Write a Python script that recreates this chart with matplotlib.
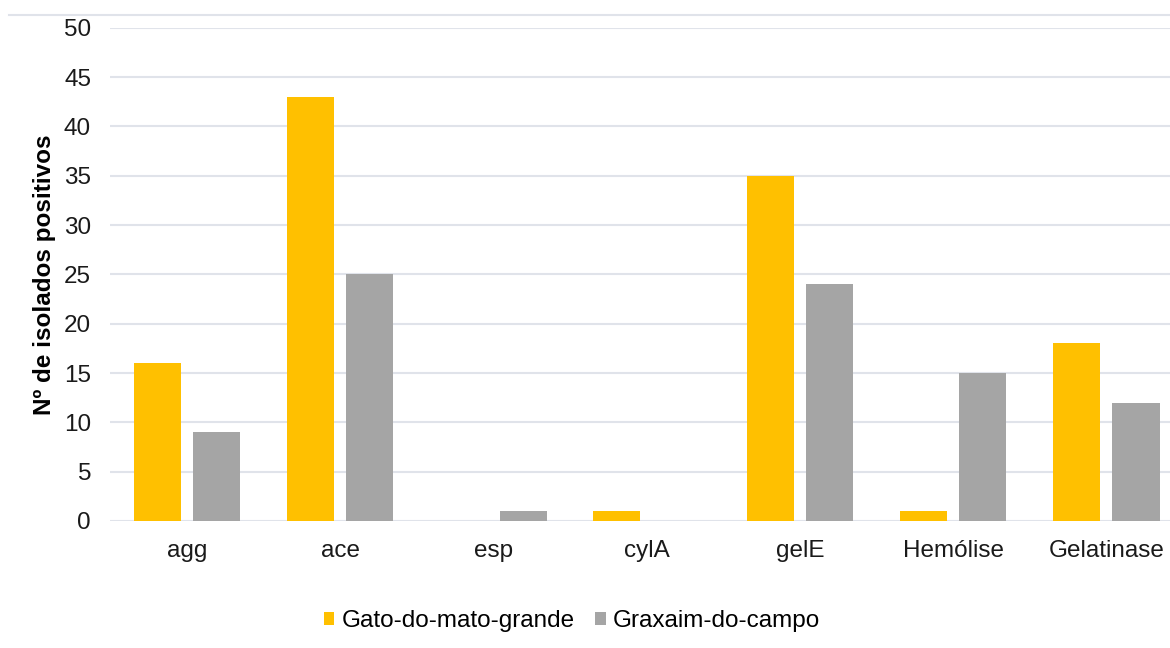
import numpy as np
import matplotlib
matplotlib.use('Agg')
import matplotlib.pyplot as plt
from matplotlib.lines import Line2D

plt.rcParams['font.family'] = ['Liberation Sans', 'DejaVu Sans']

categories = ['agg', 'ace', 'esp', 'cylA', 'gelE', 'Hemólise', 'Gelatinase']
gato = [16, 43, 0, 1, 35, 1, 18]
graxaim = [9, 25, 1, 0, 24, 15, 12]
series_names = ['Gato-do-mato-grande', 'Graxaim-do-campo']
colors = ['#FFC000', '#A5A5A5']

fig = plt.figure(figsize=(11.7, 6.48), dpi=100)
# plot area runs a little past the right edge, as in the original (clipped)
ax = fig.add_axes([0.0944, 0.196, 0.9166, 0.761])

x = np.arange(len(categories))
w = 0.307
ax.bar(x - 0.194, gato, w, color=colors[0], label=series_names[0], zorder=3)
ax.bar(x + 0.194, graxaim, w, color=colors[1], label=series_names[1], zorder=3)

ax.set_xlim(-0.5, len(categories) - 0.5)
ax.set_ylim(0, 50)
ax.set_yticks(range(0, 51, 5))
ax.set_xticks(x)
ax.set_xticklabels(categories)
ax.tick_params(axis='both', length=0, labelsize=17.5, colors='#1a1a1a')
ax.tick_params(axis='x', pad=14)
ax.tick_params(axis='y', pad=14)
ax.grid(axis='y', color='#E0E3EA', linewidth=1.5, zorder=0)
for s in ax.spines.values():
    s.set_visible(False)
ax.set_ylabel('Nº de isolados positivos', fontsize=17.5, fontweight='bold', labelpad=6)

fig.add_artist(Line2D([0.008, 1.0], [0.977, 0.977], color='#E0E3EA', linewidth=1.5))

fig.legend(loc='lower center', bbox_to_anchor=(0.489, -0.009), ncol=2, frameon=False,
           fontsize=17.5, handlelength=0.42, handleheight=0.42, handletextpad=0.3,
           columnspacing=0.85)

plt.savefig('out.png', dpi=100)
